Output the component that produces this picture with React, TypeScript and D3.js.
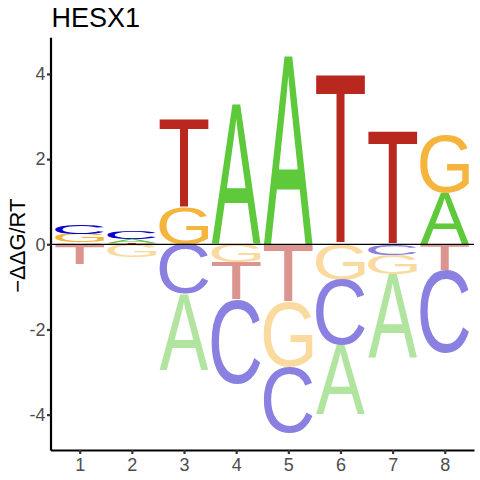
import React, { useRef, useEffect, useMemo } from 'react';
import * as d3 from 'd3';

// energy logo for HESX1, one value per base and position (−ΔΔG/RT)
const positions = [1, 2, 3, 4, 5, 6, 7, 8];
const bases = ['A', 'C', 'G', 'T'];
const valuesA = [0.04, 0.1, -1.77, 3.29, 4.42, -1.61, -1.95, 1.21];
const valuesC = [0.22, 0.17, -1.17, -1.99, -1.55, -1.53, -0.25, -1.95];
const valuesG = [0.2, -0.3, 0.87, -0.42, -1.52, -0.84, -0.45, 1.36];
const valuesT = [-0.46, 0.03, 2.07, -0.88, -1.35, 3.98, 2.66, -0.61];
const yTicks = [-4, -2, 0, 2, 4];

const posColors: Record<string, string> = { A: '#5DC93B', C: '#0A00CC', G: '#F5B43C', T: '#B9281F' };
const negColors: Record<string, string> = { A: '#B1E49E', C: '#8A80E1', G: '#FADA9E', T: '#DC948F' };

const FONT = '"Liberation Sans", Arial, sans-serif';
const FS = 100;

interface Letter {
    base: string;
    pos: number;
    y0: number;
    y1: number;
    neg: boolean;
}

const App: React.FC = () => {
    const xAxisRef = useRef<SVGGElement | null>(null);
    const yAxisRef = useRef<SVGGElement | null>(null);

    const width = 480;
    const height = 480;
    const margin = { top: 37.3, right: 6, bottom: 30, left: 50.5 };

    const xScale = d3.scaleLinear().domain([0.44, 8.56]).range([margin.left, width - margin.right]);
    const yScale = d3.scaleLinear().domain([-4.83, 4.86]).range([height - margin.bottom, margin.top]);

    const values: Record<string, number[]> = { A: valuesA, C: valuesC, G: valuesG, T: valuesT };

    // tight glyph bounds so each letter can be stretched to fill its box
    const glyphs = useMemo(() => {
        const ctx = document.createElement('canvas').getContext('2d')!;
        ctx.font = `${FS}px ${FONT}`;
        const out: Record<string, { l: number; r: number; t: number; b: number }> = {};
        bases.forEach((b) => {
            const m = ctx.measureText(b);
            out[b] = {
                l: -m.actualBoundingBoxLeft,
                r: m.actualBoundingBoxRight,
                t: -m.actualBoundingBoxAscent,
                b: m.actualBoundingBoxDescent,
            };
        });
        return out;
    }, []);

    const letters: Letter[] = [];
    positions.forEach((p, i) => {
        const items = bases.map((b) => ({ base: b, v: values[b][i] })).filter((d) => d.v !== 0);
        const pos = items.filter((d) => d.v > 0).sort((a, b) => a.v - b.v);
        const neg = items.filter((d) => d.v < 0).sort((a, b) => b.v - a.v);
        let acc = 0;
        pos.forEach((d) => {
            letters.push({ base: d.base, pos: p, y0: acc, y1: acc + d.v, neg: false });
            acc += d.v;
        });
        acc = 0;
        neg.forEach((d) => {
            letters.push({ base: d.base, pos: p, y0: acc + d.v, y1: acc, neg: true });
            acc += d.v;
        });
    });

    const letterWidth = 0.94;

    useEffect(() => {
        if (!xAxisRef.current || !yAxisRef.current) return;

        const xAxis = d3.axisBottom(xScale).tickValues(positions).tickFormat((d) => String(d)).tickSize(4).tickPadding(4).tickSizeOuter(0);
        const yAxis = d3.axisLeft(yScale).tickValues(yTicks).tickFormat((d) => String(d)).tickSize(3.5).tickPadding(1.5).tickSizeOuter(0);

        const gx = d3.select(xAxisRef.current).call(xAxis);
        const gy = d3.select(yAxisRef.current).call(yAxis);

        [gx, gy].forEach((g) => {
            g.attr('font-family', FONT).attr('font-size', 18);
            g.select('.domain').attr('stroke', 'black').attr('stroke-width', 2.2);
            g.selectAll('.tick line').attr('stroke', '#333333').attr('stroke-width', 2.2);
            g.selectAll('.tick text').attr('fill', '#4D4D4D');
        });
    }, []);

    return (
        <svg width={width} height={height} style={{ position: 'absolute', left: 0, top: 0, background: 'white' }}>
            <text x={51.5} y={27.3} fontFamily={FONT} fontSize={27} fill="black">
                HESX1
            </text>
            <text
                transform={`translate(25, ${(margin.top + height - margin.bottom) / 2 + 2}) rotate(-90)`}
                textAnchor="middle"
                fontFamily={FONT}
                fontSize={22}
                fill="black"
            >
                −ΔΔG/RT
            </text>

            <g>
                {letters.map((d, i) => {
                    const g = glyphs[d.base];
                    const x0 = xScale(d.pos - letterWidth / 2);
                    const x1 = xScale(d.pos + letterWidth / 2);
                    const yTop = yScale(d.y1);
                    const yBot = yScale(d.y0);
                    const sx = (x1 - x0) / (g.r - g.l);
                    const sy = (yBot - yTop) / (g.b - g.t);
                    return (
                        <text
                            key={i}
                            transform={`translate(${x0},${yTop}) scale(${sx},${sy}) translate(${-g.l},${-g.t})`}
                            fontFamily={FONT}
                            fontSize={FS}
                            fill={d.neg ? negColors[d.base] : posColors[d.base]}
                        >
                            {d.base}
                        </text>
                    );
                })}
            </g>

            <line x1={margin.left} x2={width - margin.right} y1={yScale(0)} y2={yScale(0)} stroke="black" strokeWidth={1.3} />

            <g ref={xAxisRef} transform={`translate(0, ${height - margin.bottom})`} />
            <g ref={yAxisRef} transform={`translate(${margin.left}, 0)`} />
        </svg>
    );
};

export default App;
